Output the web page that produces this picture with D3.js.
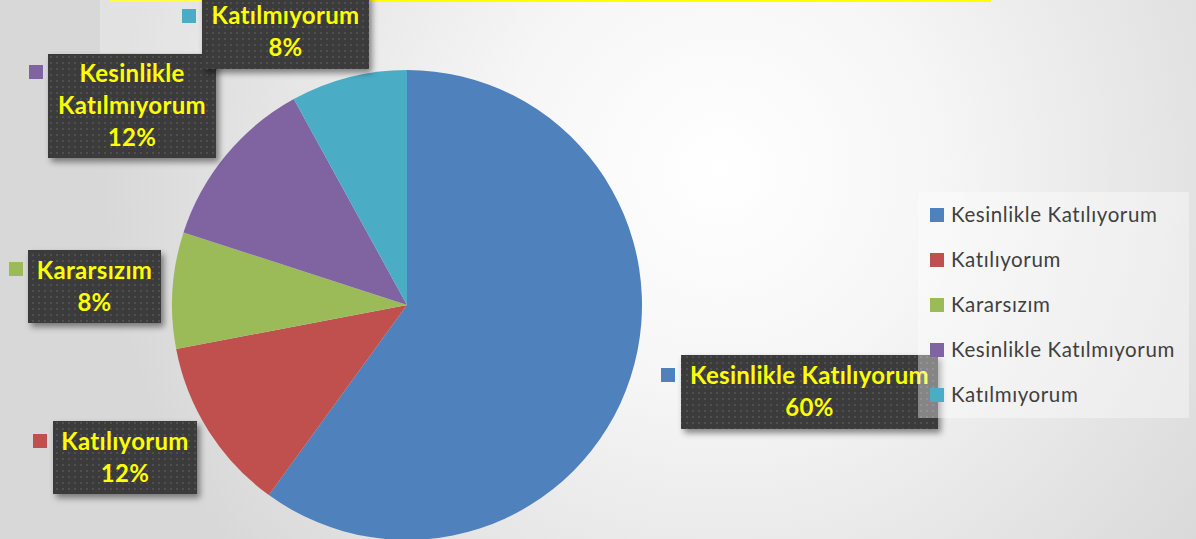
<!DOCTYPE html>
<html>
<head>
<meta charset="utf-8">
<script src="https://cdn.jsdelivr.net/npm/d3@7"></script>
<style>
  html, body { margin: 0; padding: 0; overflow: hidden; }
  svg { display: block; }
</style>
</head>
<body>
<svg id="chart"></svg>
<script>
// survey answers
var categories = ["Kesinlikle Katılıyorum", "Katılıyorum", "Kararsızım", "Kesinlikle Katılmıyorum", "Katılmıyorum"];
var values = [60, 12, 8, 12, 8];
var percentLabels = ["60%", "12%", "8%", "12%", "8%"];
var colors = ["#4f81bd", "#c0504d", "#9bbb59", "#8064a2", "#4bacc6"];

// where the data labels sit (box left/top/width/height, text lines)
var labelBoxes = [
    { x: 681, y: 355, w: 257, h: 74, lines: ["Kesinlikle Katılıyorum"], mx: 661, my: 368 },
    { x: 53, y: 421, w: 144, h: 73, lines: ["Katılıyorum"], mx: 33, my: 434 },
    { x: 28, y: 250, w: 133, h: 73, lines: ["Kararsızım"], mx: 9, my: 262 },
    { x: 48, y: 54, w: 168, h: 104, lines: ["Kesinlikle", "Katılmıyorum"], mx: 29, my: 65 },
    { x: 202, y: -6, w: 167, h: 75, lines: ["Katılmıyorum"], mx: 182, my: 9 }
];

var width = 1196;
var height = 539;
var cx = 407, cy = 305, radius = 235;

var svg = d3.select("#chart").attr("width", width).attr("height", height);
var defs = svg.append("defs");

// background gradient
var bg = defs.append("radialGradient")
    .attr("id", "bg")
    .attr("gradientUnits", "userSpaceOnUse")
    .attr("cx", 720).attr("cy", 170).attr("r", 620);
bg.append("stop").attr("offset", "0%").attr("stop-color", "#ffffff");
bg.append("stop").attr("offset", "35%").attr("stop-color", "#f6f6f6");
bg.append("stop").attr("offset", "100%").attr("stop-color", "#d8d8d8");

// dotted dark fill for labels
var pat = defs.append("pattern")
    .attr("id", "dots")
    .attr("patternUnits", "userSpaceOnUse")
    .attr("width", 6).attr("height", 6);
pat.append("rect").attr("width", 6).attr("height", 6).attr("fill", "#3a3a3a");
pat.append("rect").attr("x", 2).attr("y", 2).attr("width", 2).attr("height", 2).attr("fill", "#4f4f4f");

var shadow = defs.append("filter").attr("id", "shadow")
    .attr("x", "-10%").attr("y", "-10%").attr("width", "130%").attr("height", "140%");
shadow.append("feDropShadow")
    .attr("dx", 3).attr("dy", 4).attr("stdDeviation", 3)
    .attr("flood-color", "#000").attr("flood-opacity", 0.45);

svg.append("rect").attr("width", width).attr("height", height).attr("fill", "url(#bg)");

// yellow title strip at the top
svg.append("rect").attr("x", 110).attr("y", 0).attr("width", 881).attr("height", 2).attr("fill", "#ffff00");
svg.append("rect").attr("x", 100).attr("y", 0).attr("width", 102).attr("height", 53)
    .attr("fill", "#ffffff").attr("opacity", 0.25);

// pie
var pie = d3.pie().sort(null).value(function (d) { return d; });
var arc = d3.arc().innerRadius(0).outerRadius(radius);

svg.append("g")
    .attr("transform", "translate(" + cx + "," + cy + ")")
    .selectAll("path")
    .data(pie(values))
    .enter().append("path")
    .attr("d", arc)
    .attr("fill", function (d, i) { return colors[i]; });

// data labels
var labels = svg.append("g")
    .selectAll("g")
    .data(labelBoxes)
    .enter().append("g");

labels.append("rect")
    .attr("x", function (d) { return d.x; })
    .attr("y", function (d) { return d.y; })
    .attr("width", function (d) { return d.w; })
    .attr("height", function (d) { return d.h; })
    .attr("fill", "url(#dots)")
    .attr("filter", "url(#shadow)");

labels.append("rect")
    .attr("x", function (d) { return d.mx; })
    .attr("y", function (d) { return d.my; })
    .attr("width", 14).attr("height", 14)
    .attr("fill", function (d, i) { return colors[i]; });

labels.each(function (d, i) {
    var g = d3.select(this);
    var lines = d.lines.concat([percentLabels[i]]);
    var lineH = 32;
    var top = d.y + d.h / 2 - (lines.length - 1) * lineH / 2;
    lines.forEach(function (t, j) {
        g.append("text")
            .attr("x", d.x + d.w / 2)
            .attr("y", top + j * lineH)
            .attr("dy", "0.35em")
            .attr("text-anchor", "middle")
            .style("font-family", "Lato, 'Open Sans', sans-serif")
            .style("font-weight", "bold")
            .style("font-size", "24px")
            .style("letter-spacing", "0.3px")
            .style("fill", "#ffff00")
            .text(t);
    });
});

// legend
svg.append("rect")
    .attr("x", 918).attr("y", 192).attr("width", 271).attr("height", 226)
    .attr("fill", "#ffffff").attr("opacity", 0.38);

var legendY = d3.scalePoint().domain(categories).range([215, 395]);

var legend = svg.append("g")
    .selectAll("g")
    .data(categories)
    .enter().append("g")
    .attr("transform", function (d) { return "translate(930," + legendY(d) + ")"; });

legend.append("rect")
    .attr("x", 0).attr("y", -7)
    .attr("width", 14).attr("height", 14)
    .attr("fill", function (d, i) { return colors[i]; });

legend.append("text")
    .attr("x", 21).attr("y", 0)
    .attr("dy", "0.35em")
    .style("font-family", "Lato, 'Open Sans', sans-serif")
    .style("font-size", "20.5px")
    .style("letter-spacing", "0.6px")
    .style("fill", "#404040")
    .text(function (d) { return d; });
</script>
</body>
</html>
